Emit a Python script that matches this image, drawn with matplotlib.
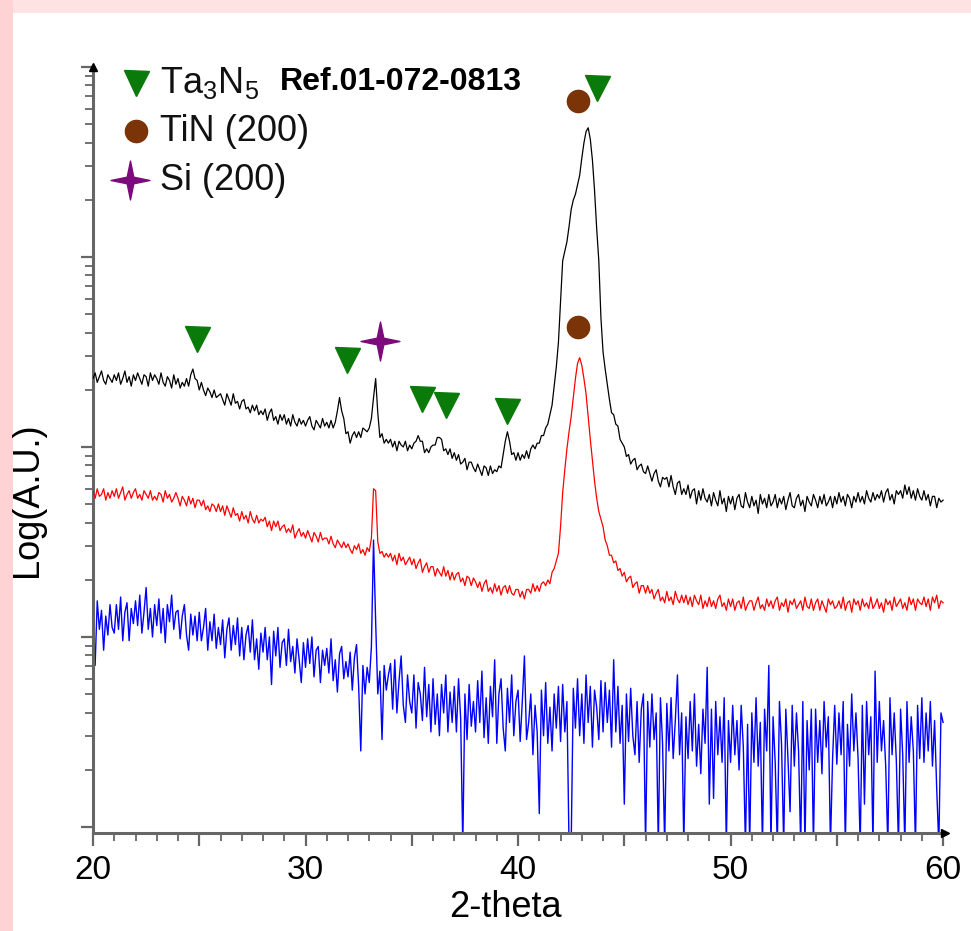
import numpy as np
import matplotlib
matplotlib.use("Agg")
import matplotlib.pyplot as plt
from matplotlib.path import Path
from matplotlib.patches import Rectangle
from matplotlib.ticker import MultipleLocator, LogLocator, NullFormatter, FuncFormatter

# 2-theta grid (0.1 degree steps, 20..60)
two_theta = np.arange(200, 601) / 10.0

# log10(intensity) x 100, one row per degree
black_log = [
    236,239,234,237,240,235,233,238,236,234,
    238,235,239,233,236,240,234,237,232,238,
    235,239,236,233,238,237,232,239,235,238,
    236,233,239,234,232,237,235,231,238,233,
    236,231,234,232,236,232,238,241,236,235,
    230,234,230,227,231,229,226,230,226,227,
    228,225,222,228,225,222,228,223,224,220,
    224,225,220,221,218,222,219,222,217,219,
    217,220,214,218,220,214,216,212,217,214,
    217,212,215,211,217,213,211,215,212,214,
    211,214,216,211,209,214,212,210,215,211,
    213,210,214,210,213,219,226,219,215,207,
    208,202,206,208,205,208,205,210,209,208,
    210,215,226,236,218,205,207,202,204,202,
    204,200,203,198,203,201,200,203,198,201,
    199,202,203,206,203,203,197,199,197,200,
    201,201,205,205,204,198,199,196,199,194,
    197,193,196,191,192,194,188,192,192,189,
    187,191,188,185,190,189,185,190,186,188,
    187,190,189,196,203,208,203,196,197,193,
    197,193,196,194,198,194,199,201,199,202,
    202,206,206,210,212,217,222,232,242,255,
    276,298,303,308,316,325,330,333,338,343,
    352,360,366,368,362,351,335,315,298,268,
    250,241,233,225,218,217,212,211,204,202,
    200,195,196,191,193,194,188,190,191,187,
    186,190,186,182,186,188,182,179,184,183,
    184,179,185,179,175,181,182,175,178,175,
    180,173,177,178,170,177,172,178,173,171,
    175,169,176,172,169,177,170,173,166,174,
    170,174,167,173,175,169,168,176,171,168,
    174,169,172,165,175,170,173,168,175,169,
    171,175,168,173,170,174,167,172,176,169,
    168,173,175,169,172,166,174,171,169,175,
    172,168,174,170,175,169,171,174,168,174,
    170,176,171,174,169,175,173,168,174,171,
    176,171,174,170,177,173,171,176,172,175,
    173,177,171,176,178,172,175,170,177,175,
    177,173,180,175,179,173,177,172,178,174,
    172,177,172,175,169,174,174,168,173,171,
    172,
]

red_log = [
    177,173,178,174,175,178,172,176,173,177,
    174,178,173,176,179,172,175,177,173,176,
    178,173,175,172,177,175,173,177,172,174,
    172,176,175,171,177,173,175,171,173,176,
    173,169,174,172,169,174,170,173,168,172,
    172,169,172,167,169,166,170,169,166,170,
    166,169,164,169,166,163,168,164,165,161,
    166,162,164,160,166,162,160,164,160,162,
    161,163,158,161,156,161,158,161,156,158,
    159,155,157,155,159,152,155,157,153,155,
    152,156,153,150,155,153,150,155,151,152,
    152,149,153,149,147,151,149,147,150,147,
    149,146,144,148,146,149,144,146,143,147,
    145,152,178,177,150,144,145,142,144,142,
    144,140,143,138,144,140,142,138,140,142,
    138,141,136,139,141,134,137,139,134,137,
    137,132,136,134,132,137,132,135,130,134,
    130,133,134,129,131,127,132,131,127,131,
    129,126,129,124,128,130,124,126,123,128,
    124,127,122,126,127,123,127,123,122,125,
    125,121,124,120,125,125,123,128,124,127,
    124,128,129,127,130,128,134,136,140,144,
    158,176,188,199,208,216,226,236,244,247,
    243,236,228,216,204,193,182,173,166,162,
    158,151,148,143,143,139,140,135,136,132,
    134,129,131,132,126,128,129,123,127,127,
    123,127,123,125,120,123,125,119,121,118,
    124,119,121,117,124,120,118,122,118,122,
    117,121,116,122,119,117,122,115,119,116,
    121,116,119,115,120,122,116,118,114,120,
    116,120,114,118,119,115,121,114,117,119,
    119,114,118,121,115,117,114,120,116,119,
    115,119,121,114,118,116,120,113,119,117,
    120,115,117,119,114,121,116,115,120,114,
    118,120,114,119,116,113,120,117,119,115,
    116,119,115,121,114,118,119,113,120,117,
    119,114,120,116,118,115,121,115,117,120,
    115,118,113,120,117,119,114,121,116,118,
    120,115,118,114,121,117,120,114,120,118,
    117,121,116,120,114,121,118,122,115,119,
    118,
]

blue_log = [
    112,85,119,104,114,93,111,101,117,105,
    102,117,104,121,98,113,118,98,115,107,
    119,106,122,102,113,126,104,115,100,117,
    106,120,102,115,97,117,108,122,104,113,
    114,99,111,117,101,93,112,101,111,98,
    113,98,105,115,93,108,98,112,94,105,
    96,109,89,104,110,93,106,96,110,90,
    105,88,101,106,92,109,88,99,83,102,
    92,105,88,100,75,103,90,105,84,97,
    99,85,104,87,95,81,99,88,76,97,
    84,99,86,100,79,93,95,76,93,85,
    94,81,99,77,88,71,91,95,78,87,
    79,92,72,89,96,74,40,85,70,84,
    76,95,151,108,70,82,46,85,72,80,
    86,62,88,60,77,90,64,55,80,66,
    60,80,52,76,70,56,84,58,75,50,
    78,54,70,48,75,60,80,50,71,55,
    74,50,78,57,-10,70,46,75,53,66,
    50,77,55,82,47,68,44,74,58,88,
    44,70,78,52,40,73,55,80,48,66,
    72,45,66,90,46,55,70,38,64,50,
    7,72,48,76,44,63,40,70,52,74,
    45,75,50,66,-10,-10,73,52,78,48,
    70,44,80,55,74,42,72,63,46,77,
    50,76,55,72,42,88,50,74,44,64,
    12,70,45,73,48,38,66,34,62,70,
    -10,66,42,70,46,60,-10,68,44,-10,
    65,40,68,36,56,80,38,60,-10,58,
    36,66,40,70,32,54,28,62,44,84,
    12,62,15,66,38,58,34,68,-10,56,
    34,64,38,56,30,64,42,-10,54,-10,
    60,34,68,32,55,-10,62,40,85,-10,
    58,34,-10,66,43,-10,62,36,8,64,
    32,60,40,-10,66,-10,56,30,62,-10,
    62,34,56,28,66,42,58,-10,36,64,
    33,60,38,66,-10,54,32,70,40,60,
    36,-10,64,12,66,38,58,-10,82,34,
    66,40,56,32,-10,68,38,60,35,-10,
    62,38,-10,66,34,58,40,-10,64,36,
    68,34,60,40,66,32,56,20,-10,60,
    55,
]

# phase markers (position in 2-theta, log10 height x 100)
ta3n5_x = [24.9, 31.95, 35.5, 36.6, 39.5, 43.7]
ta3n5_log = [257, 246, 225, 222, 219, 389]
tin_x = [42.8, 42.8]
tin_log = [382, 263]
si_x = [33.5]
si_log = [256]

legend_labels = ["Ta$_\\mathregular{3}$N$_\\mathregular{5}$", "TiN (200)", "Si (200)"]
ref_label = "Ref.01-072-0813"
x_label = "2-theta"
y_label = "Log(A.U.)"

for arr in (black_log, red_log, blue_log):
    assert len(arr) == len(two_theta), len(arr)

def to_int(v):
    return 10 ** (np.asarray(v, dtype=float) / 100.0)

plt.rcParams['font.family'] = ['Liberation Sans', 'DejaVu Sans']
plt.rcParams['mathtext.fontset'] = 'custom'
plt.rcParams['mathtext.rm'] = 'Liberation Sans'

W, H = 971, 931
fig = plt.figure(figsize=(W / 100, H / 100), dpi=100)
fig.patch.set_facecolor('white')
fig.add_artist(Rectangle((0, 1 - 13 / H), 1, 13 / H, transform=fig.transFigure,
                         facecolor='#ffe3e3', edgecolor='none', zorder=-5))
fig.add_artist(Rectangle((0, 0), 13 / W, 1, transform=fig.transFigure,
                         facecolor='#ffd3d3', edgecolor='none', zorder=-4))

ax = fig.add_axes([93 / W, (H - 833) / H, 852 / W, 766 / H])
ax.set_facecolor('none')

green = '#0a7a0a'
brown = '#7a3408'
purple = '#7d0a7d'

ax.plot(two_theta, to_int(blue_log), color='#0000ff', lw=1.0, zorder=2)
ax.plot(two_theta, to_int(red_log), color='#ff0000', lw=0.9, zorder=3)
ax.plot(two_theta, to_int(black_log), color='black', lw=0.9, zorder=4)

star = Path([(0, 1), (0.17, 0.17), (1, 0), (0.17, -0.17), (0, -1),
             (-0.17, -0.17), (-1, 0), (-0.17, 0.17), (0, 1)],
            [Path.MOVETO] + [Path.LINETO] * 7 + [Path.CLOSEPOLY])

ax.plot(ta3n5_x, to_int(ta3n5_log), ls='none', marker='v', ms=18,
        color=green, mec=green, zorder=5)
ax.plot(tin_x, to_int(tin_log), ls='none', marker='o', ms=16,
        color=brown, mec=brown, zorder=5)
ax.plot(si_x, to_int(si_log), ls='none', marker=star, ms=28,
        color=purple, mec=purple, zorder=5)

ax.set_yscale('log')
ax.set_xlim(20, 60.09)
ax.set_ylim(10 ** -0.032, 10 ** 4.0)

# legend-like key
key_y = [0.979, 0.916, 0.852]
key_x = [0.051, 0.051, 0.043]
key_marker = ['v', 'o', star]
key_color = [green, brown, purple]
key_ms = [18, 16, 28]
for xk, yk, mk, ck, msk, lab in zip(key_x, key_y, key_marker, key_color, key_ms, legend_labels):
    ax.plot([xk], [yk], transform=ax.transAxes, marker=mk, ms=msk,
            color=ck, mec=ck, ls='none', clip_on=False, zorder=6)
    ax.text(0.079, yk, lab, transform=ax.transAxes, fontsize=26,
            va='center', ha='left', color='#111111')
ax.text(0.219, 0.981, ref_label, transform=ax.transAxes, fontsize=23,
        fontweight='bold', va='center', ha='left', color='black')

# axes styling
for s in ('top', 'right'):
    ax.spines[s].set_visible(False)
for s in ('left', 'bottom'):
    ax.spines[s].set_color('#666666')
    ax.spines[s].set_linewidth(2.2)

ax.xaxis.set_major_locator(MultipleLocator(5))
ax.xaxis.set_minor_locator(MultipleLocator(1))
ax.xaxis.set_major_formatter(FuncFormatter(
    lambda v, p: f"{int(round(v))}" if int(round(v)) % 10 == 0 else ""))
ax.yaxis.set_major_locator(LogLocator(base=10, subs=(1.0,)))
ax.yaxis.set_minor_locator(LogLocator(base=10, subs=np.arange(2, 10)))
ax.yaxis.set_major_formatter(NullFormatter())
ax.yaxis.set_minor_formatter(NullFormatter())
ax.tick_params(which='major', direction='out', length=9, width=1.6,
               color='#666666', labelsize=24, pad=7)
ax.tick_params(which='minor', direction='out', length=6, width=1.3,
               color='#666666')

ax.set_xlabel(x_label, fontsize=26)
ax.set_ylabel(y_label, fontsize=26)
ax.xaxis.set_label_coords(0.484, -0.074)
ax.yaxis.set_label_coords(-0.056, 0.435)

# axis arrow heads
ax.plot([0], [1], transform=ax.transAxes, marker='^', ms=6, color='black',
        clip_on=False, zorder=7)
ax.plot([1], [0], transform=ax.transAxes, marker='>', ms=6, color='black',
        clip_on=False, zorder=7)

fig.savefig('out.png', dpi=100, facecolor=fig.get_facecolor())
